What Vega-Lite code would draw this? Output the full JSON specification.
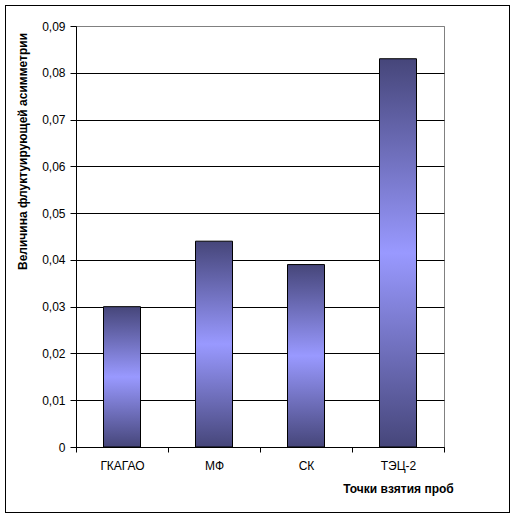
{
  "$schema": "https://vega.github.io/schema/vega-lite/v6.json",
  "width": 368,
  "height": 421,
  "autosize": "none",
  "padding": {"left": 76, "top": 26, "right": 72, "bottom": 71},
  "background": "white",
  "config": {
    "font": "Liberation Sans",
    "view": {"stroke": "#808080", "strokeWidth": 1}
  },
  "data": {
    "values": [
      {"point": "ГКАГАО", "value": 0.030},
      {"point": "МФ", "value": 0.044},
      {"point": "СК", "value": 0.039},
      {"point": "ТЭЦ-2", "value": 0.083}
    ]
  },
  "layer": [
    {
      "mark": {
        "type": "rect",
        "x": -70.5,
        "y": -20.5,
        "x2": 433.5,
        "y2": 486.5,
        "fill": null,
        "stroke": "black",
        "strokeWidth": 1,
        "clip": false
      },
      "encoding": {}
    },
    {
      "mark": {
        "type": "bar",
        "size": 37,
        "stroke": "black",
        "strokeWidth": 1,
        "color": {
          "gradient": "linear",
          "x1": 0, "y1": 0, "x2": 0, "y2": 1,
          "stops": [
            {"offset": 0, "color": "#46467a"},
            {"offset": 0.5, "color": "#9999ff"},
            {"offset": 1, "color": "#46467a"}
          ]
        }
      },
      "encoding": {
        "x": {
          "field": "point",
          "type": "nominal",
          "sort": null,
          "scale": {"paddingInner": 0, "paddingOuter": 0},
          "axis": {
            "title": "Точки взятия проб",
            "titleFontSize": 12,
            "titleFontWeight": "bold",
            "titleColor": "black",
            "titleX": 322,
            "titleY": 41,
            "titleBaseline": "middle",
            "titleAlign": "center",
            "labelAngle": 0,
            "labelFontSize": 12,
            "labelColor": "black",
            "labelPadding": 8,
            "tickBand": "extent",
            "tickSize": 5,
            "tickColor": "black",
            "domainColor": "black",
            "grid": false
          }
        },
        "y": {
          "field": "value",
          "type": "quantitative",
          "scale": {"domain": [0, 0.09], "nice": false},
          "axis": {
            "title": "Величина флуктуирующей асимметрии",
            "titleFontSize": 12,
            "titleFontWeight": "bold",
            "titleColor": "black",
            "titleX": -54,
            "titleY": 125,
            "titleAngle": -90,
            "titleBaseline": "middle",
            "titleAlign": "center",
            "values": [0, 0.01, 0.02, 0.03, 0.04, 0.05, 0.06, 0.07, 0.08, 0.09],
            "labelExpr": "datum.value == 0 ? '0' : replace(format(datum.value, '.2f'), '.', ',')",
            "labelFontSize": 12,
            "labelColor": "black",
            "labelPadding": 5,
            "tickSize": 6,
            "tickColor": "black",
            "domainColor": "black",
            "grid": true,
            "gridColor": {"condition": {"test": "datum.value >= 0.089", "value": "#808080"}, "value": "black"},
            "gridOpacity": 1
          }
        }
      }
    }
  ]
}
